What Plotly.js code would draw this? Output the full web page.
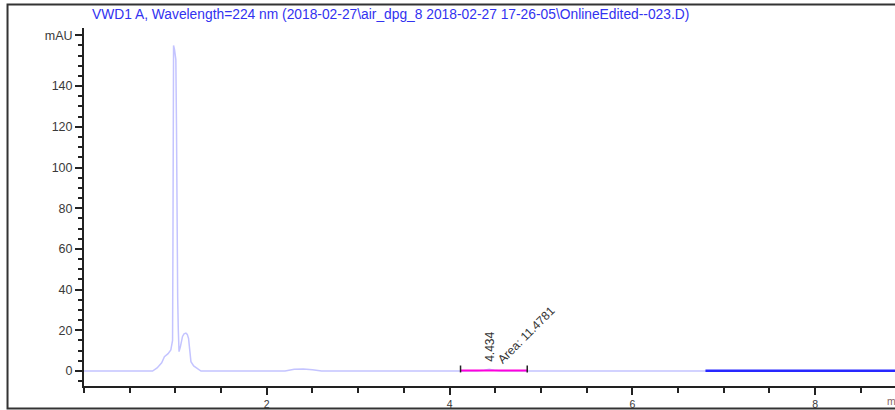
<!DOCTYPE html>
<html>
<head>
<meta charset="utf-8">
<script src="https://cdn.plot.ly/plotly-3.0.1.min.js"></script>
<style>html,body{margin:0;padding:0;background:#fff;}#chart{width:895px;height:410px;}</style>
</head>
<body>
<div id="chart"></div>
<script>
// Chromatogram signal (time in min, absorbance in mAU)
var signalTime = [0, 0.5, 0.75, 0.80, 0.85, 0.88, 0.92, 0.95, 0.965, 0.969, 0.973, 0.976, 0.98, 0.99, 1.005, 1.012, 1.018, 1.025, 1.032, 1.04, 1.055, 1.078, 1.095, 1.115, 1.13, 1.144, 1.16, 1.17, 1.2, 1.24, 1.28, 1.6, 2.2, 2.3, 2.4, 2.5, 2.6, 3.5, 4.3, 4.38, 4.434, 4.49, 4.56, 5.5, 6.8, 8.0, 8.9];
var signalValue = [0, 0, 0, 1.5, 4, 7, 8.5, 10.3, 13, 15, 60, 90, 160, 158, 153, 120, 41, 36, 20, 9.5, 12, 17, 18.3, 18.6, 18, 16, 9, 4.6, 2.5, 1.4, 0, 0, 0, 0.8, 1.0, 0.6, 0, 0, 0, 0.4, 0.8, 0.4, 0, 0, 0, 0, 0];

// Integration baseline of the peak at 4.434 min
var integTime = [4.12, 4.85];
var integValue = [0.3, 0.3];

// Highlighted baseline segment at the end of the run
var tailTime = [6.8, 8.9];
var tailValue = [0.15, 0.15];

// Peak labels
var peakRT = 4.434;
var peakRTLabel = "4.434";
var peakAreaLabel = "Area: 11.4781";

// Axis ticks
var xTickVals = [2, 4, 6, 8];
var xTickText = ["2", "4", "6", "8"];
var yTickVals = [0, 20, 40, 60, 80, 100, 120, 140, 165];
var yTickText = ["0", "20", "40", "60", "80", "100", "120", "140", "mAU"];

var chartTitle = "VWD1 A, Wavelength=224 nm (2018-02-27\\air_dpg_8 2018-02-27 17-26-05\\OnlineEdited--023.D)";

var traces = [
  {x: signalTime, y: signalValue, type: 'scatter', mode: 'lines',
   line: {color: 'rgb(196,196,255)', width: 1.5}, hoverinfo: 'skip'},
  {x: integTime, y: integValue, type: 'scatter', mode: 'lines',
   line: {color: 'rgb(255,0,220)', width: 2}, hoverinfo: 'skip'},
  {x: tailTime, y: tailValue, type: 'scatter', mode: 'lines',
   line: {color: 'rgb(40,40,255)', width: 2.5}, hoverinfo: 'skip'}
];

var shapes = [
  {type: 'rect', xref: 'paper', yref: 'paper', x0: -0.0943, x1: 1.05, y0: -0.063, y1: 1.0656,
   line: {color: '#333', width: 2}, fillcolor: 'rgba(0,0,0,0)', layer: 'below'}
];
integTime.forEach(function (t, i) {
  shapes.push({type: 'line', xref: 'x', yref: 'y', x0: t, x1: t,
    y0: integValue[i] - 1, y1: integValue[i] + 2.4, line: {color: '#222', width: 1.5}});
});

var layout = {
  width: 895, height: 410, autosize: false,
  margin: {l: 84, r: 0, t: 28, b: 24, pad: 0},
  paper_bgcolor: '#fff', plot_bgcolor: 'rgba(0,0,0,0)',
  showlegend: false,
  font: {family: 'Liberation Sans, Arial, sans-serif', size: 12, color: '#444'},
  xaxis: {
    range: [0, 8.874], showgrid: false, zeroline: false,
    showline: true, linecolor: '#222', linewidth: 2,
    tickmode: 'array', tickvals: xTickVals, ticktext: xTickText,
    ticks: 'outside', ticklen: 7, tickwidth: 2, tickcolor: '#222',
    tickfont: {size: 10.5, color: '#3a3a3a'},
    minor: {tickmode: 'linear', tick0: 0, dtick: 0.5, ticks: 'outside', ticklen: 5, tickwidth: 2, tickcolor: '#222', showgrid: false}
  },
  yaxis: {
    range: [-7.37, 168.55], showgrid: false, zeroline: false,
    showline: true, linecolor: '#222', linewidth: 2,
    tickmode: 'array', tickvals: yTickVals, ticktext: yTickText,
    ticks: 'outside', ticklen: 7, tickwidth: 2, tickcolor: '#222',
    tickfont: {size: 12.5, color: '#3a3a3a'},
    minor: {tickmode: 'linear', tick0: 0, dtick: 5, ticks: 'outside', ticklen: 4, tickwidth: 2, tickcolor: '#222', showgrid: false}
  },
  shapes: shapes,
  annotations: [
    {xref: 'paper', yref: 'paper', x: 0.0074, y: 1.039, xanchor: 'left', yanchor: 'middle',
     text: chartTitle, showarrow: false,
     font: {size: 13.8, color: 'rgb(50,50,240)'}},
    {xref: 'paper', yref: 'paper', x: 0.988, y: -0.042, xanchor: 'left', yanchor: 'middle',
     text: 'min', showarrow: false, font: {size: 10.5, color: '#866'}},
    {xref: 'x', yref: 'y', x: peakRT, y: 12, text: peakRTLabel, textangle: -90,
     showarrow: false, font: {size: 12, color: '#333'}},
    {xref: 'x', yref: 'y', x: 4.84, y: 17.7, text: peakAreaLabel, textangle: -45,
     showarrow: false, font: {size: 12, color: '#333'}}
  ]
};

Plotly.newPlot('chart', traces, layout, {staticPlot: true, displayModeBar: false});
</script>
</body>
</html>
